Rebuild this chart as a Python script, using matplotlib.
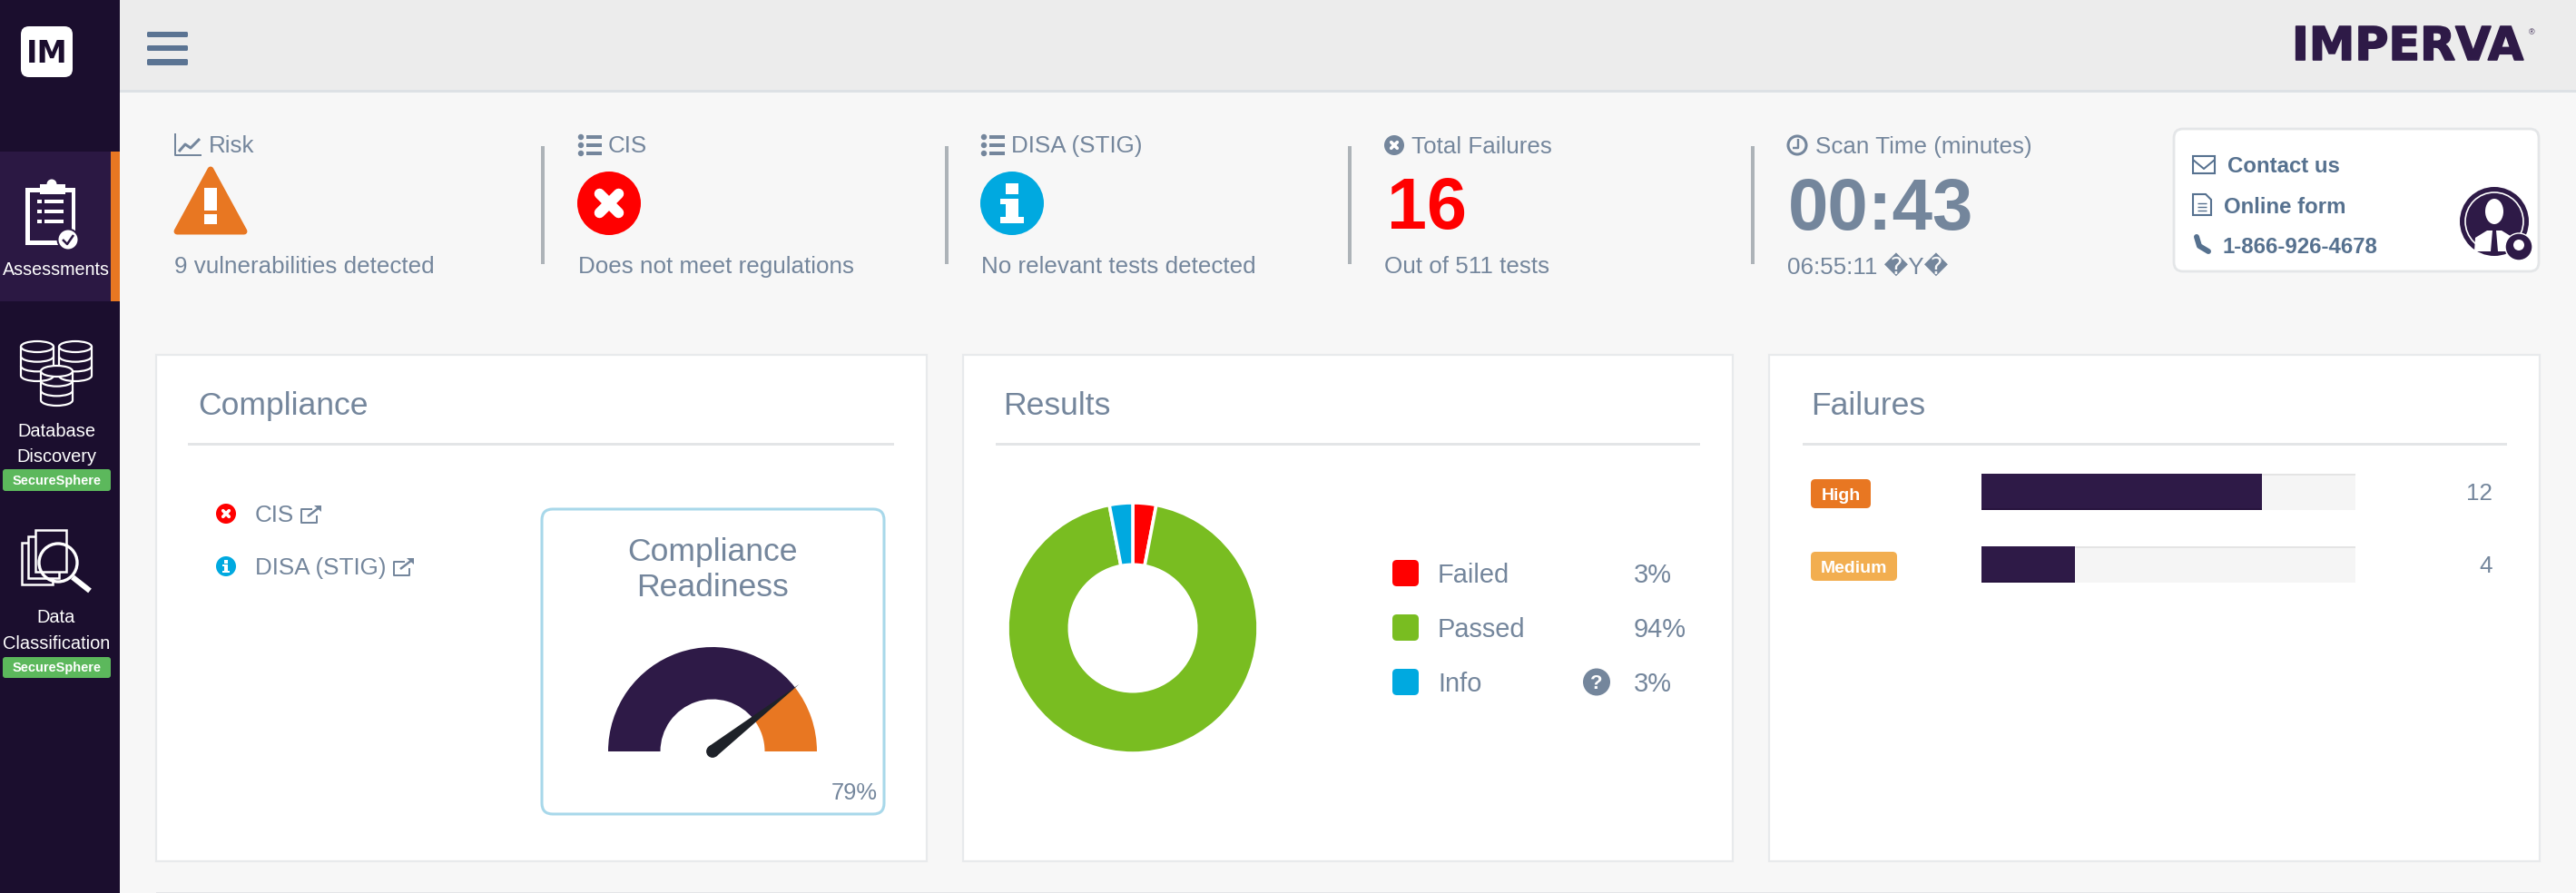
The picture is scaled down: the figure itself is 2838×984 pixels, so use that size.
import matplotlib
matplotlib.use("Agg")
import numpy as np
import matplotlib.pyplot as plt
from matplotlib.patches import Rectangle, FancyBboxPatch, Circle, Ellipse, Polygon, Arc
import matplotlib.patheffects as pe

plt.rcParams['font.family'] = ['Liberation Sans', 'DejaVu Sans']

W, H = 2838, 984

# data
result_labels = ["Failed", "Passed", "Info"]
result_values = [3, 94, 3]
result_colors = ["#ff0000", "#79bd21", "#00a9e0"]
failure_labels = ["High", "Medium"]
failure_counts = [12, 4]
failure_colors = ["#e87722", "#f2ae50"]
failure_total = 16
readiness = 79
compliance_items = ["CIS", "DISA (STIG)"]

GREY = "#74869c"
SLATE = "#56718f"
PURPLE = "#2e1a47"
DARK = "#1b0e2e"
ACTIVE = "#2b1843"
ORANGE = "#e87722"
RED = "#ff0000"
BLUE = "#00a9e0"

fig = plt.figure(figsize=(W / 100, H / 100), dpi=100, facecolor="#f7f7f7")
ax = fig.add_axes([0, 0, 1, 1])
ax.set_xlim(0, W)
ax.set_ylim(H, 0)
ax.axis("off")


def px_axes(x0, y0, x1, y1):
    a = fig.add_axes([x0 / W, 1 - y1 / H, (x1 - x0) / W, (y1 - y0) / H], zorder=3)
    a.axis("off")
    return a


def txt(x, y, s, px, color=GREY, weight="normal", ha="left", **kw):
    # y is the middle of the capitals
    ax.text(x, y + 0.36 * px, s, fontsize=px * 0.72, color=color, weight=weight,
            ha=ha, va="baseline", zorder=6, **kw)


def rect(x0, y0, x1, y1, color, z=1):
    ax.add_patch(Rectangle((x0, y0), x1 - x0, y1 - y0, facecolor=color, edgecolor="none", zorder=z))


def rbox(x0, y0, x1, y1, r, fc, ec="none", lw=0, z=2):
    ax.add_patch(FancyBboxPatch((x0 + r, y0 + r), x1 - x0 - 2 * r, y1 - y0 - 2 * r,
                                boxstyle=f"round,pad={r},rounding_size={r}",
                                facecolor=fc, edgecolor=ec, linewidth=lw, zorder=z))


def line(xs, ys, color, lw, z=5, cap="butt"):
    ax.plot(xs, ys, color=color, lw=lw * 0.72, solid_capstyle=cap, solid_joinstyle="round", zorder=z)


def circle_x(cx, cy, r, color):
    ax.add_patch(Circle((cx, cy), r, color=color, zorder=4, lw=0))
    d = r * 0.3
    lw = r * 0.33
    line([cx - d, cx + d], [cy - d, cy + d], "white", lw, cap="round")
    line([cx - d, cx + d], [cy + d, cy - d], "white", lw, cap="round")


def circle_i(cx, cy, r, color):
    ax.add_patch(Circle((cx, cy), r, color=color, zorder=4, lw=0))
    rect(cx - r * .2, cy - r * .62, cx + r * .2, cy - r * .28, "white", 5)
    rect(cx - r * .2, cy - r * .12, cx + r * .2, cy + r * .5, "white", 5)
    rect(cx - r * .36, cy - r * .14, cx + r * .2, cy + r * .04, "white", 5)
    rect(cx - r * .36, cy + r * .44, cx + r * .36, cy + r * .64, "white", 5)


def list_icon(x, y):
    for dy in (-9, 0, 9):
        ax.add_patch(Circle((x + 3, y + dy), 3.2, color=GREY, zorder=5, lw=0))
        rect(x + 9, y + dy - 2, x + 26, y + dy + 2, GREY, 5)


def link_icon(x, y):
    line([x + 12, x, x, x + 17, x + 17], [y + 3, y + 3, y + 18, y + 18, y + 10], GREY, 2)
    line([x + 7, x + 20], [y + 11, y + 1], GREY, 2.5)
    ax.add_patch(Polygon([[x + 14, y - 1], [x + 22, y - 1], [x + 22, y + 6]], color=GREY, zorder=5, lw=0))


def cylinder(x0, x1, y0, y1):
    cx = (x0 + x1) / 2
    w = x1 - x0
    rect(x0, y0 + 6, x1, y1 - 6, DARK, 4)
    ax.add_patch(Ellipse((cx, y1 - 6), w, 12, fc=DARK, ec="none", zorder=4))
    ax.add_patch(Ellipse((cx, y0 + 6), w, 12, fc=DARK, ec="white", lw=1.6, zorder=4.2))
    step = (y1 - y0 - 12) / 3
    for k in (1, 2, 3):
        ax.add_patch(Arc((cx, y0 + 6 + k * step), w, 12, theta1=0, theta2=180, ec="white", lw=1.6, zorder=4.2))
    line([x0, x0], [y0 + 6, y1 - 6], "white", 2.2, z=4.2)
    line([x1, x1], [y0 + 6, y1 - 6], "white", 2.2, z=4.2)


# page chrome
rect(0, 0, W, 100, "#ececec")
rect(0, 99, W, 102, "#dde1e5")
rect(0, 0, 132, H, DARK, 2)
rect(0, 167, 122, 332, ACTIVE, 2)
rect(122, 167, 132, 332, ORANGE, 2)

# sidebar
rbox(23, 29, 80, 85, 9, "white", z=3)
ax.text(51.5, 69, "IM", fontsize=24, family="DejaVu Sans", weight="bold", color=DARK, ha="center", va="baseline", zorder=6)

rect(28, 207, 83, 270, "white", 3)
rect(33, 212, 79, 265, ACTIVE, 3)
rect(44, 203, 72, 214, "white", 4)
ax.add_patch(Circle((57, 203), 5.5, fc="white", ec="none", zorder=4))
for yy in (222, 233, 244):
    rect(41, yy - 2, 46, yy + 2, "white", 4)
    rect(49, yy - 2, 70, yy + 2, "white", 4)
ax.add_patch(Circle((75, 264), 12.5, fc=ACTIVE, ec="none", zorder=4))
ax.add_patch(Circle((75, 264), 10.5, fc="white", ec="none", zorder=4))
line([69, 74, 81], [264, 269, 259], ACTIVE, 2.5)
txt(61.5, 296, "Assessments", 19.8, "white", ha="center")

cylinder(23, 59, 376, 420)
cylinder(65, 101, 376, 420)
cylinder(45, 80, 403, 447)
txt(62, 474, "Database", 20, "white", ha="center")
txt(62, 502, "Discovery", 20, "white", ha="center")
rbox(3, 517, 122, 541, 3, "#5cb85c", z=3)
txt(63, 529, "SecureSphere", 14.5, "white", "bold", "center")

for dx, dy in ((0, 0), (7, -7), (15, -14)):
    ax.add_patch(Rectangle((24 + dx, 598 + dy), 34, 46, fc=DARK, ec="white", lw=1.8, zorder=3 + dx * 0.01))
ax.add_patch(Circle((64, 620), 21, fc="none", ec="white", lw=2.4, zorder=4))
line([80, 99], [636, 651], "white", 6, z=4)
txt(62, 679, "Data", 20, "white", ha="center")
txt(62, 708, "Classification", 20, "white", ha="center")
rbox(3, 724, 122, 747, 3, "#5cb85c", z=3)
txt(63, 735, "SecureSphere", 14.5, "white", "bold", "center")

# header
for y0, y1 in ((35, 41), (50, 56), (65, 72)):
    rbox(162, y0, 207, y1, 1.5, "#5b7493", z=3)
ax.text(2525, 66, "IMPERVA", fontsize=36.5, family="DejaVu Sans", weight="bold", color=PURPLE, ha="left", va="baseline",
        zorder=6, path_effects=[pe.withStroke(linewidth=1.2, foreground=PURPLE)])
txt(2786, 35, "®", 9, PURPLE)

# summary strip
for sx in (598, 1043, 1487, 1931):
    rect(sx - 2, 161, sx + 2, 291, "#adb3b8", 2)

line([193, 193, 222], [147, 171, 171], GREY, 2)
line([197, 204, 210, 220], [167, 159, 163, 153], GREY, 3)
txt(230, 159, "Risk", 26)
ax.add_patch(Polygon([[232, 187], [269, 255], [195, 255]], closed=True, fc=ORANGE, ec=ORANGE, lw=5, joinstyle="round", zorder=4))
rect(225, 207, 239, 232, "white", 5)
rect(225, 236, 239, 247, "white", 5)
txt(192, 292, "9 vulnerabilities detected", 26)

list_icon(637, 160)
txt(670, 159, "CIS", 26)
circle_x(671, 224, 35, RED)
txt(637, 292, "Does not meet regulations", 26)

list_icon(1081, 160)
txt(1114, 159, "DISA (STIG)", 26)
circle_i(1115, 224, 35, BLUE)
txt(1081, 292, "No relevant tests detected", 26)

circle_x(1536, 160, 11, GREY)
txt(1555, 160, "Total Failures", 26)
txt(1528, 224, "16", 79, RED, "bold")
txt(1525, 292, "Out of 511 tests", 26)

ax.add_patch(Circle((1980, 160), 10, fc="none", ec=GREY, lw=2.2, zorder=5))
line([1981, 1981, 1975], [153, 163, 163], GREY, 2.4)
txt(2000, 160, "Scan Time (minutes)", 26)
txt(1970, 224, "00:43", 80, GREY, "bold")
txt(1969, 292, "06:55:11 \ufffdY\ufffd", 26)

# contact card
rbox(2395, 142, 2797, 299, 10, "white", "#e4e6e8", 2, z=2)
ax.add_patch(Rectangle((2416, 172), 24, 19, fc="none", ec=SLATE, lw=1.5, zorder=5))
line([2416, 2428, 2440], [176, 186, 176], SLATE, 2)
txt(2454, 181, "Contact us", 24, SLATE, "bold")
ax.add_patch(Polygon([[2416, 214], [2430, 214], [2436, 220], [2436, 237], [2416, 237]], fc="none", ec=SLATE, lw=1.5, zorder=5))
for yy in (224, 228, 232):
    line([2421, 2431], [yy, yy], SLATE, 1.4)
txt(2450, 226, "Online form", 24, SLATE, "bold")
line([2420, 2423, 2433], [261, 271, 277], SLATE, 6, cap="round")
txt(2449, 270, "1-866-926-4678", 24, SLATE, "bold")

ax.add_patch(Circle((2748, 244), 38, fc=PURPLE, ec="none", zorder=4))
ring = Circle((2748, 244), 32, fc="none", ec="white", lw=1.2, zorder=5)
ax.add_patch(ring)
ax.add_patch(Ellipse((2748, 233), 20, 28, fc="white", ec="none", zorder=5))
shoulders = Polygon([[2726, 277], [2727, 262], [2740, 254], [2756, 254], [2769, 262], [2770, 277]], fc="white", ec="none", zorder=5)
ax.add_patch(shoulders)
ax.add_patch(Polygon([[2746, 254], [2750, 254], [2752, 277], [2744, 277]], fc=PURPLE, ec="none", zorder=5))
ax.add_patch(Circle((2775, 272), 15, fc=PURPLE, ec="white", lw=1, zorder=6))
ax.add_patch(Circle((2775, 270), 6, fc="white", ec="none", zorder=7))

# panels
for px0, px1, title, tx, r0, r1 in ((172, 1021, "Compliance", 218, 207, 985),
                                    (1061, 1909, "Results", 1105, 1097, 1873),
                                    (1949, 2798, "Failures", 1995, 1986, 2762)):
    ax.add_patch(Rectangle((px0, 391), px1 - px0, 558, fc="white", ec="#e8eaec", lw=1.6, zorder=1.5))
    txt(tx, 444, title, 35.5)
    rect(r0, 487.5, r1, 490.5, "#e3e5e7", 2)
line([172, 2798], [983.5, 983.5], "#e3e5e7", 2, z=1.5)

# compliance list
circle_x(249, 566, 11, RED)
txt(281, 566, compliance_items[0], 26)
link_icon(332, 558)
circle_i(249, 624, 11, BLUE)
txt(281, 624, compliance_items[1], 26)
link_icon(434, 616)

# gauge
rbox(597, 561, 974, 897, 12, "white", "#a8d8ea", 2.2, z=2)
txt(785, 605, "Compliance", 35.5, ha="center")
txt(785, 644, "Readiness", 35.5, ha="center")
txt(967, 872, f"{readiness}%", 25.5, ha="right")

cx, cy, rg = 785, 828, 115
gx = px_axes(cx - rg * 1.1, cy - rg * 1.1, cx + rg * 1.1, cy + rg * 1.1)
gx.pie([readiness, 100 - readiness, 100], colors=[PURPLE, ORANGE, "none"], startangle=180, counterclock=False,
       radius=1, wedgeprops=dict(width=0.5, linewidth=0))
gx.set_xlim(-1.1, 1.1)
gx.set_ylim(-1.1, 1.1)
ang = np.pi * (1 - readiness / 100)
tip = np.array([np.cos(ang), np.sin(ang)]) * 1.05
nrm = np.array([-np.sin(ang), np.cos(ang)]) * 0.06
gx.add_patch(Polygon([nrm, tip, -nrm], color="#1e2229", lw=0, zorder=5))
gx.add_patch(Circle((0, 0), 0.06, color="#1e2229", lw=0, zorder=5))

# results donut
dx = px_axes(1248 - 138, 692 - 138, 1248 + 138, 692 + 138)
dx.pie(result_values, colors=result_colors, startangle=90, counterclock=False, radius=1,
       wedgeprops=dict(width=0.495, edgecolor="white", linewidth=2.6))
dx.set_xlim(-1, 1)
dx.set_ylim(-1, 1)

for i, (lab, val, col) in enumerate(zip(result_labels, result_values, result_colors)):
    ym = 631.5 + 60 * i
    rbox(1534, ym - 14.5, 1563, ym + 14.5, 5, col, z=3)
    txt(1584, ym, lab, 29)
    txt(1800, ym, f"{val}%", 29)
ax.add_patch(Circle((1759, 751.5), 15, color=GREY, lw=0, zorder=4))
txt(1759, 751.5, "?", 22, "white", "bold", "center")

# failures bars
bx = px_axes(2183, 522, 2595, 642)
ypos = np.arange(len(failure_counts))
bx.barh(ypos, [failure_total] * len(ypos), height=0.5, color="#f5f5f5")
bx.barh(ypos - 0.24, [failure_total] * len(ypos), height=0.025, color="#e4e4e4")
bx.barh(ypos, failure_counts, height=0.5, color=PURPLE, zorder=3)
bx.barh(ypos + 0.235, failure_counts, height=0.03, color="#27143e", zorder=4)
bx.set_xlim(0, failure_total)
bx.set_ylim(1.25, -0.25)

badge_right = [2061, 2090]
for i, (lab, cnt, col) in enumerate(zip(failure_labels, failure_counts, failure_colors)):
    ym = 542 + 80 * i
    rbox(1995, ym - 14, badge_right[i], ym + 18, 5, col, z=3)
    txt((1995 + badge_right[i]) / 2, ym + 2, lab, 19.5, "white", "bold", "center")
    txt(2746, ym, str(cnt), 26, ha="right")

fig.savefig("out.png", dpi=100, facecolor=fig.get_facecolor())
